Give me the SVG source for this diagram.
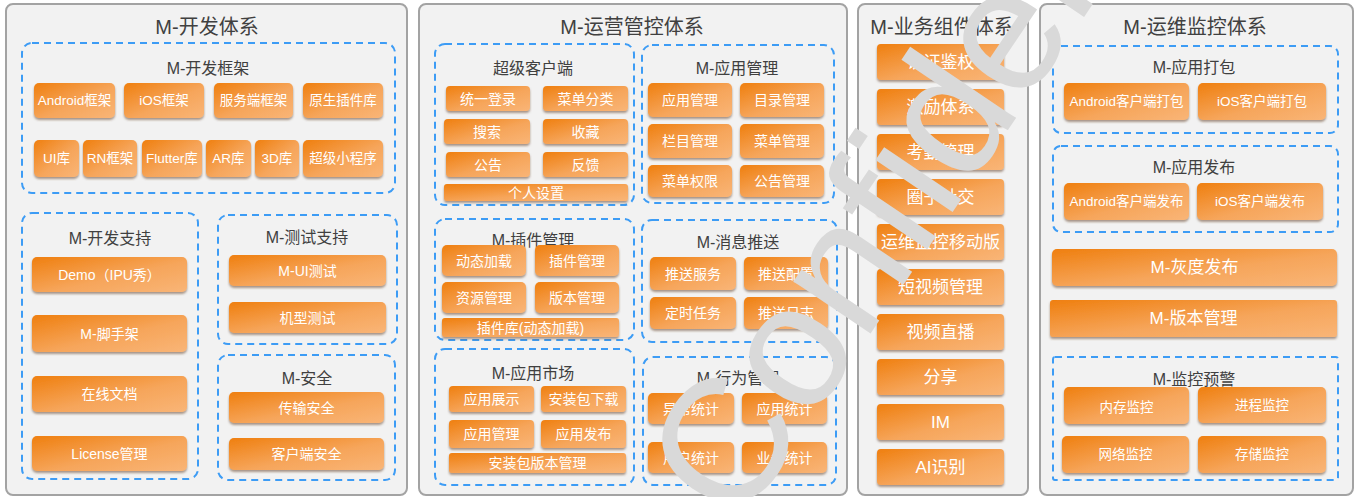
<svg xmlns="http://www.w3.org/2000/svg" width="1359" height="497" viewBox="0 0 1359 497">
<defs>
<linearGradient id="og" x1="0" y1="0" x2="1" y2="1">
<stop offset="0" stop-color="#ef7f0f"/>
<stop offset="0.55" stop-color="#f6a55a"/>
<stop offset="1" stop-color="#f9b577"/>
</linearGradient>
<filter id="sh" x="-10%" y="-20%" width="120%" height="150%">
<feDropShadow dx="0" dy="2" stdDeviation="1.2" flood-color="#6b4a30" flood-opacity="0.55"/>
</filter>
<style>
.panel{fill:#f2f2f2;stroke:#a3a3a3;stroke-width:2}
.grp{fill:none;stroke:#3d9cf5;stroke-width:2;stroke-dasharray:7 5}
.box{fill:url(#og);filter:url(#sh)}
text{font-family:"Liberation Sans","Noto Sans CJK SC",sans-serif;text-anchor:middle;dominant-baseline:central}
.t1{font-size:20px;fill:#404040}
.t2{font-size:16px;fill:#404040}
.b{fill:#fff;font-size:13.5px}
.b14{fill:#fff;font-size:14px}
.b17{fill:#fff;font-size:17px}
.wm{font-size:176px;fill:#d9d9d9;text-anchor:start;dominant-baseline:alphabetic}
</style>
</defs>
<rect width="1359" height="497" fill="#ffffff"/>

<g id="dev-system">
<rect class="panel" x="6" y="4" width="401" height="491" rx="7"/>
<text class="t1" x="207" y="27">M-开发体系</text>
</g>
<g id="dev-framework">
<rect class="grp" x="22" y="43" width="373" height="150" rx="10"/>
<text class="t2" x="208" y="68">M-开发框架</text>
<rect class="box" x="34" y="83" width="81" height="35" rx="5"/><text class="b" x="74.5" y="100.5">Android框架</text>
<rect class="box" x="124" y="83" width="80" height="35" rx="5"/><text class="b" x="164" y="100.5">iOS框架</text>
<rect class="box" x="214" y="83" width="79" height="35" rx="5"/><text class="b" x="253.5" y="100.5">服务端框架</text>
<rect class="box" x="303" y="83" width="80" height="35" rx="5"/><text class="b" x="343" y="100.5">原生插件库</text>
<rect class="box" x="34" y="140" width="45" height="37" rx="5"/><text class="b" x="56.5" y="158.5">UI库</text>
<rect class="box" x="83" y="140" width="54" height="37" rx="5"/><text class="b" x="110" y="158.5">RN框架</text>
<rect class="box" x="142" y="140" width="60" height="37" rx="5"/><text class="b" x="172" y="158.5">Flutter库</text>
<rect class="box" x="206" y="140" width="45" height="37" rx="5"/><text class="b" x="228.5" y="158.5">AR库</text>
<rect class="box" x="255" y="140" width="44" height="37" rx="5"/><text class="b" x="277" y="158.5">3D库</text>
<rect class="box" x="303" y="140" width="80" height="37" rx="5"/><text class="b" x="343" y="158.5">超级小程序</text>
</g>
<g id="dev-support">
<rect class="grp" x="22" y="213" width="176" height="266" rx="10"/>
<text class="t2" x="110" y="238">M-开发支持</text>
<rect class="box" x="32" y="257" width="155" height="35" rx="5"/><text class="b14" x="109.5" y="274.5">Demo（IPU秀）</text>
<rect class="box" x="32" y="315" width="155" height="37" rx="5"/><text class="b14" x="109.5" y="333.5">M-脚手架</text>
<rect class="box" x="32" y="376" width="155" height="36" rx="5"/><text class="b14" x="109.5" y="394">在线文档</text>
<rect class="box" x="32" y="436" width="155" height="35" rx="5"/><text class="b14" x="109.5" y="453.5">License管理</text>
</g>
<g id="test-support">
<rect class="grp" x="218" y="215" width="179" height="129" rx="10"/>
<text class="t2" x="307" y="237">M-测试支持</text>
<rect class="box" x="229" y="255" width="157" height="31" rx="5"/><text class="b14" x="307.5" y="270.5">M-UI测试</text>
<rect class="box" x="229" y="302" width="157" height="31" rx="5"/><text class="b14" x="307.5" y="317.5">机型测试</text>
</g>
<g id="security">
<rect class="grp" x="218" y="355" width="177" height="125" rx="10"/>
<text class="t2" x="307" y="378">M-安全</text>
<rect class="box" x="229" y="392" width="155" height="31" rx="5"/><text class="b14" x="306.5" y="407.5">传输安全</text>
<rect class="box" x="229" y="438" width="155" height="32" rx="5"/><text class="b14" x="306.5" y="454">客户端安全</text>
</g>

<g id="ops-system">
<rect class="panel" x="419" y="4" width="428" height="491" rx="7"/>
<text class="t1" x="632" y="27">M-运营管控体系</text>
</g>
<g id="super-client">
<rect class="grp" x="435" y="44" width="199" height="161" rx="10"/>
<text class="t2" x="533" y="68">超级客户端</text>
<rect class="box" x="446" y="86" width="84" height="25" rx="4"/><text class="b14" x="488" y="98.5">统一登录</text>
<rect class="box" x="543" y="86" width="85" height="25" rx="4"/><text class="b14" x="585.5" y="98.5">菜单分类</text>
<rect class="box" x="444" y="119" width="86" height="25" rx="4"/><text class="b14" x="487" y="131.5">搜索</text>
<rect class="box" x="543" y="119" width="85" height="25" rx="4"/><text class="b14" x="585.5" y="131.5">收藏</text>
<rect class="box" x="446" y="152" width="84" height="25" rx="4"/><text class="b14" x="488" y="164.5">公告</text>
<rect class="box" x="543" y="152" width="85" height="25" rx="4"/><text class="b14" x="585.5" y="164.5">反馈</text>
<rect class="box" x="444" y="184" width="184" height="17" rx="3"/><text class="b14" x="536" y="193">个人设置</text>
</g>
<g id="app-management">
<rect class="grp" x="642" y="45" width="192" height="158" rx="10"/>
<text class="t2" x="737" y="68">M-应用管理</text>
<rect class="box" x="648" y="83" width="84" height="34" rx="5"/><text class="b14" x="690" y="100">应用管理</text>
<rect class="box" x="740" y="83" width="84" height="34" rx="5"/><text class="b14" x="782" y="100">目录管理</text>
<rect class="box" x="648" y="124" width="84" height="34" rx="5"/><text class="b14" x="690" y="141">栏目管理</text>
<rect class="box" x="740" y="124" width="84" height="34" rx="5"/><text class="b14" x="782" y="141">菜单管理</text>
<rect class="box" x="648" y="165" width="84" height="32" rx="5"/><text class="b14" x="690" y="181">菜单权限</text>
<rect class="box" x="740" y="165" width="84" height="32" rx="5"/><text class="b14" x="782" y="181">公告管理</text>
</g>
<g id="plugin-management">
<rect class="grp" x="435" y="219" width="199" height="121" rx="10"/>
<text class="t2" x="533" y="240">M-插件管理</text>
<rect class="box" x="442" y="245" width="84" height="31" rx="5"/><text class="b14" x="484" y="260.5">动态加载</text>
<rect class="box" x="535" y="245" width="84" height="31" rx="5"/><text class="b14" x="577" y="260.5">插件管理</text>
<rect class="box" x="442" y="282" width="84" height="31" rx="5"/><text class="b14" x="484" y="297.5">资源管理</text>
<rect class="box" x="535" y="282" width="84" height="31" rx="5"/><text class="b14" x="577" y="297.5">版本管理</text>
<rect class="box" x="442" y="318" width="177" height="19" rx="3"/><text class="b14" x="530.5" y="327.5">插件库(动态加载)</text>
</g>
<g id="message-push">
<rect class="grp" x="642" y="220" width="195" height="122" rx="10"/>
<text class="t2" x="738" y="242">M-消息推送</text>
<rect class="box" x="650" y="257" width="86" height="33" rx="5"/><text class="b14" x="693" y="273.5">推送服务</text>
<rect class="box" x="744" y="257" width="84" height="33" rx="5"/><text class="b14" x="786" y="273.5">推送配置</text>
<rect class="box" x="650" y="297" width="86" height="32" rx="5"/><text class="b14" x="693" y="313">定时任务</text>
<rect class="box" x="744" y="297" width="84" height="32" rx="5"/><text class="b14" x="786" y="313">推送日志</text>
</g>
<g id="app-market">
<rect class="grp" x="435" y="349" width="199" height="136" rx="10"/>
<text class="t2" x="533" y="373">M-应用市场</text>
<rect class="box" x="449" y="386" width="85" height="26" rx="4"/><text class="b14" x="491.5" y="399">应用展示</text>
<rect class="box" x="541" y="386" width="85" height="26" rx="4"/><text class="b14" x="583.5" y="399">安装包下载</text>
<rect class="box" x="449" y="420" width="85" height="28" rx="4"/><text class="b14" x="491.5" y="434">应用管理</text>
<rect class="box" x="541" y="420" width="85" height="28" rx="4"/><text class="b14" x="583.5" y="434">应用发布</text>
<rect class="box" x="449" y="453" width="177" height="20" rx="3"/><text class="b14" x="537.5" y="463">安装包版本管理</text>
</g>
<g id="behavior-management">
<rect class="grp" x="643" y="357" width="193" height="128" rx="10"/>
<text class="t2" x="738" y="378">M-行为管理</text>
<rect class="box" x="648" y="393" width="86" height="31" rx="5"/><text class="b14" x="691" y="408.5">异常统计</text>
<rect class="box" x="742" y="393" width="85" height="31" rx="5"/><text class="b14" x="784.5" y="408.5">应用统计</text>
<rect class="box" x="648" y="442" width="86" height="31" rx="5"/><text class="b14" x="691" y="457.5">用户统计</text>
<rect class="box" x="742" y="442" width="85" height="31" rx="5"/><text class="b14" x="784.5" y="457.5">业务统计</text>
</g>

<g id="biz-components">
<rect class="panel" x="858" y="4" width="170" height="491" rx="7"/>
<text class="t1" x="942" y="27">M-业务组件体系</text>
<rect class="box" x="877" y="44" width="127" height="36" rx="4"/><text class="b17" x="940.5" y="62">认证鉴权</text>
<rect class="box" x="877" y="89" width="127" height="36" rx="4"/><text class="b17" x="940.5" y="107">激励体系</text>
<rect class="box" x="877" y="134" width="127" height="36" rx="4"/><text class="b17" x="940.5" y="152">考勤管理</text>
<rect class="box" x="877" y="179" width="127" height="36" rx="4"/><text class="b17" x="940.5" y="197">圈子社交</text>
<rect class="box" x="877" y="224" width="127" height="36" rx="4"/><text class="b17" x="940.5" y="242">运维监控移动版</text>
<rect class="box" x="877" y="269" width="127" height="36" rx="4"/><text class="b17" x="940.5" y="287">短视频管理</text>
<rect class="box" x="877" y="314" width="127" height="36" rx="4"/><text class="b17" x="940.5" y="332">视频直播</text>
<rect class="box" x="877" y="359" width="127" height="36" rx="4"/><text class="b17" x="940.5" y="377">分享</text>
<rect class="box" x="877" y="404" width="127" height="36" rx="4"/><text class="b17" x="940.5" y="422">IM</text>
<rect class="box" x="877" y="449" width="127" height="36" rx="4"/><text class="b17" x="940.5" y="467">AI识别</text>
</g>

<g id="om-system">
<rect class="panel" x="1040" y="4" width="313" height="491" rx="7"/>
<text class="t1" x="1195" y="27">M-运维监控体系</text>
</g>
<g id="app-packaging">
<rect class="grp" x="1053" y="46" width="285" height="87" rx="8"/>
<text class="t2" x="1194" y="67">M-应用打包</text>
<rect class="box" x="1064" y="83" width="125" height="37" rx="5"/><text class="b" x="1126.5" y="101.5">Android客户端打包</text>
<rect class="box" x="1198" y="83" width="128" height="37" rx="5"/><text class="b" x="1262" y="101.5">iOS客户端打包</text>
</g>
<g id="app-release">
<rect class="grp" x="1053" y="146" width="285" height="86" rx="8"/>
<text class="t2" x="1194" y="167">M-应用发布</text>
<rect class="box" x="1064" y="183" width="125" height="37" rx="5"/><text class="b" x="1126.5" y="201.5">Android客户端发布</text>
<rect class="box" x="1197" y="183" width="126" height="37" rx="5"/><text class="b" x="1260" y="201.5">iOS客户端发布</text>
</g>
<g id="gray-release">
<rect class="box" x="1052" y="249" width="285" height="37" rx="5"/><text class="b17" x="1194.5" y="267.5">M-灰度发布</text>
</g>
<g id="version-management">
<rect class="box" x="1050" y="300" width="287" height="37" rx="3"/><text class="b17" x="1193.5" y="318.5">M-版本管理</text>
</g>
<g id="monitor-alert">
<rect class="grp" x="1053" y="357" width="285" height="123" rx="2"/>
<text class="t2" x="1194" y="379">M-监控预警</text>
<rect class="box" x="1064" y="387" width="125" height="37" rx="5"/><text class="b" x="1126.5" y="407">内存监控</text>
<rect class="box" x="1198" y="387" width="128" height="36" rx="5"/><text class="b" x="1262" y="405">进程监控</text>
<rect class="box" x="1062" y="436" width="127" height="37" rx="5"/><text class="b" x="1125.5" y="454.5">网络监控</text>
<rect class="box" x="1198" y="436" width="128" height="37" rx="5"/><text class="b" x="1262" y="454.5">存储监控</text>
</g>

<g id="connectors"></g>

<text class="wm" transform="translate(738,530) rotate(-56)">Confidential</text>
</svg>
